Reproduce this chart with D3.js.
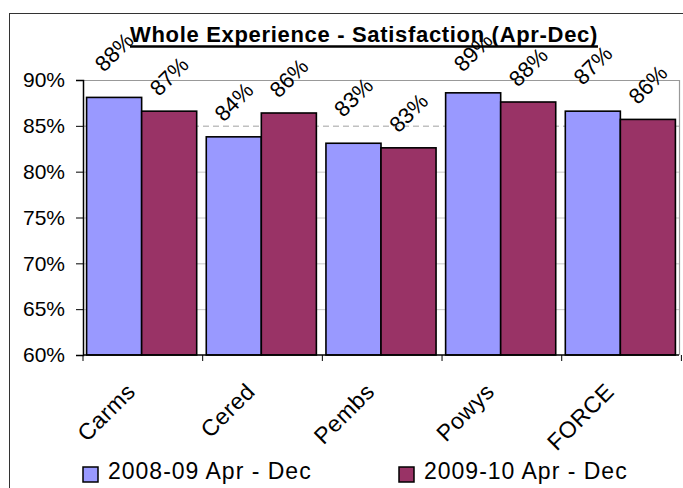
<!DOCTYPE html>
<html>
<head>
<meta http-equiv="Content-Type" content="text/html;charset=utf-8"/>
<style>
  body { margin: 0; background: #fff; }
  text { font-family: "Liberation Sans", Arial, sans-serif; fill: #000; }
</style>
</head>
<body>
  <svg id="chart"></svg>
  <script src="https://d3js.org/d3.v7.min.js"></script>
  <script>
  // Chart data
  var categories = ['Carms', 'Cered', 'Pembs', 'Powys', 'FORCE'];
  var seriesNames = ['2008-09 Apr - Dec', '2009-10 Apr - Dec'];
  var values0809 = [88.1, 83.8, 83.1, 88.6, 86.6];
  var values0910 = [86.6, 86.4, 82.6, 87.6, 85.7];
  var yTicks = [60, 65, 70, 75, 80, 85, 90];
  var targetLine = 85;
  var title = 'Whole Experience - Satisfaction (Apr-Dec)';

  var config = {
    width: 683,
    height: 488,
    plot: { left: 83, top: 80, right: 679, bottom: 355 },
    colors: ['#9999ff', '#993366'],
    labelGap: 35,      // centre of a value label above its bar
    labelLift: 11,     // extra lift when the neighbouring bar is lower (avoids overlap)
    labelMinY: 52,     // labels never go further up than this
  };

  var svg = d3.select('#chart')
    .attr('width', config.width)
    .attr('height', config.height);

  // outer chart border (runs off the right and bottom of the picture)
  svg.append('rect')
    .attr('x', 9.5).attr('y', 13.5)
    .attr('width', 720).attr('height', 520)
    .attr('fill', 'none')
    .attr('stroke', '#333')
    .attr('stroke-width', 1);

  var x0 = d3.scaleBand()
    .domain(categories)
    .range([config.plot.left, config.plot.right])
    .paddingInner(0.08)
    .paddingOuter(0.03);

  var x1 = d3.scaleBand()
    .domain([0, 1])
    .range([0, x0.bandwidth()]);

  var y = d3.scaleLinear()
    .domain([60, 90])
    .range([config.plot.bottom, config.plot.top]);

  // gridlines
  svg.append('g')
    .selectAll('line')
    .data(yTicks.filter(function(d) { return d !== 60 && d !== 90 && d !== targetLine; }))
    .join('line')
    .attr('x1', config.plot.left).attr('x2', config.plot.right)
    .attr('y1', function(d) { return y(d) + 0.5; })
    .attr('y2', function(d) { return y(d) + 0.5; })
    .attr('stroke', '#c8c8c8')
    .attr('stroke-width', 1);

  svg.append('line')
    .attr('x1', config.plot.left).attr('x2', config.plot.right)
    .attr('y1', y(targetLine) + 0.5).attr('y2', y(targetLine) + 0.5)
    .attr('stroke', '#c0c0c0')
    .attr('stroke-width', 1.5)
    .attr('stroke-dasharray', '6,4');

  // plot area border (top and right, grey)
  svg.append('path')
    .attr('d', 'M' + config.plot.left + ',' + (config.plot.top + 0.5) +
               'H' + (config.plot.right + 0.5) + 'V' + config.plot.bottom)
    .attr('fill', 'none')
    .attr('stroke', '#999')
    .attr('stroke-width', 1.2);

  // bars
  var seriesData = [values0809, values0910];
  function pointsFor(d, i) {
    return seriesData.map(function(s, k) { return { k: k, v: s[i], other: seriesData[1 - k][i] }; });
  }
  var groups = svg.append('g')
    .selectAll('g')
    .data(categories)
    .join('g')
    .attr('transform', function(d) { return 'translate(' + x0(d) + ',0)'; });

  groups.selectAll('rect')
    .data(pointsFor)
    .join('rect')
    .attr('x', function(d) { return x1(d.k); })
    .attr('y', function(d) { return y(d.v); })
    .attr('width', x1.bandwidth())
    .attr('height', function(d) { return y(60) - y(d.v); })
    .attr('fill', function(d) { return config.colors[d.k]; })
    .attr('stroke', '#000')
    .attr('stroke-width', 1.6);

  // value labels, rotated
  groups.selectAll('text')
    .data(pointsFor)
    .join('text')
    .attr('transform', function(d) {
      var cy = y(d.v) - config.labelGap;
      if (d.k === 0 && d.v > d.other) cy -= config.labelLift;
      cy = Math.max(cy, config.labelMinY);
      return 'translate(' + (x1(d.k) + x1.bandwidth() / 2) + ',' + cy + ') rotate(-45)';
    })
    .attr('text-anchor', 'middle')
    .attr('dy', '0.35em')
    .style('font-size', '22px')
    .text(function(d) { return Math.round(d.v) + '%'; });

  // axes
  var yAxis = svg.append('g')
    .attr('transform', 'translate(' + config.plot.left + ',0)')
    .call(d3.axisLeft(y).tickValues(yTicks).tickSize(7).tickPadding(11)
      .tickFormat(function(d) { return d + '%'; }));
  yAxis.select('.domain').attr('stroke', '#000').attr('stroke-width', 1.5);
  yAxis.selectAll('.tick line').attr('stroke', '#000');
  yAxis.selectAll('.tick text').style('font-size', '21px').attr('fill', '#000');

  var xAxis = svg.append('g')
    .attr('transform', 'translate(0,' + config.plot.bottom + ')');
  xAxis.append('line')
    .attr('x1', config.plot.left).attr('x2', config.plot.right)
    .attr('stroke', '#000').attr('stroke-width', 1.5);
  var step = x0.step();
  xAxis.selectAll('.xtick')
    .data(d3.range(categories.length + 1))
    .join('line')
    .attr('class', 'xtick')
    .attr('x1', function(i) { return config.plot.left + i * step; })
    .attr('x2', function(i) { return config.plot.left + i * step; })
    .attr('y1', 0).attr('y2', 6)
    .attr('stroke', '#000');
  xAxis.selectAll('text')
    .data(categories)
    .join('text')
    .attr('transform', function(d) {
      return 'translate(' + (x0(d) + x0.bandwidth() / 2 - 5) + ',38) rotate(-45)';
    })
    .attr('text-anchor', 'end')
    .style('font-size', '23px')
    .style('letter-spacing', '0.5px')
    .text(function(d) { return d; });

  // title, with a heavier underline drawn by hand
  var titleText = svg.append('text')
    .attr('x', 130).attr('y', 42)
    .style('font-size', '22px')
    .style('font-weight', 'bold')
    .style('letter-spacing', '0.68px')
    .text(title);
  var titleWidth = titleText.node().getComputedTextLength();
  svg.append('line')
    .attr('x1', 130).attr('x2', 130 + titleWidth)
    .attr('y1', 46.5).attr('y2', 46.5)
    .attr('stroke', '#000')
    .attr('stroke-width', 2.5);

  // legend
  var legendX = [83, 399];
  var legend = svg.append('g')
    .selectAll('g')
    .data(seriesNames)
    .join('g')
    .attr('transform', function(d, i) { return 'translate(' + legendX[i] + ',467)'; });
  legend.append('rect')
    .attr('width', 15).attr('height', 15)
    .attr('fill', function(d, i) { return config.colors[i]; })
    .attr('stroke', '#000').attr('stroke-width', 1.5);
  legend.append('text')
    .attr('x', 25).attr('y', 12)
    .style('font-size', '23px')
    .style('letter-spacing', '1px')
    .text(function(d) { return d; });
  </script>
</body>
</html>
